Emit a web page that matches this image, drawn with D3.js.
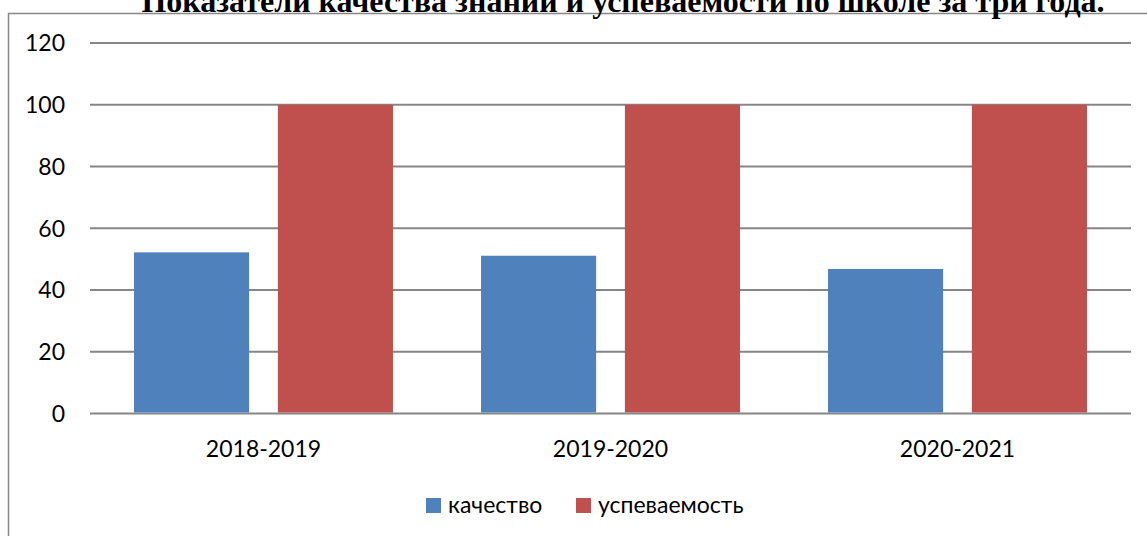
<!DOCTYPE html>
<html>
<head>
<meta charset="utf-8">
<script src="https://cdn.jsdelivr.net/npm/d3@7"></script>
<style>
  body { margin: 0; background: #fff; }
  svg { display: block; }
</style>
</head>
<body>
<div id="chart"></div>
<script>
// chart data
var years = ["2018-2019", "2019-2020", "2020-2021"];
var seriesNames = ["качество", "успеваемость"];
var quality = [52.2, 51.1, 46.8];
var success = [100, 100, 100];
var yTicks = [0, 20, 40, 60, 80, 100, 120];
var colors = ["#4F81BD", "#C0504D"];
var titleText = "Показатели качества знаний и успеваемости по школе за три года.";

var width = 1147, height = 536;
var plotLeft = 90, plotRight = 1131, plotTop = 43, plotBottom = 413.5;

var svg = d3.select("#chart").append("svg")
    .attr("width", width)
    .attr("height", height);

// outer chart border (runs past the right and bottom edges)
svg.append("rect")
    .attr("x", 8.5).attr("y", 13.5)
    .attr("width", 1200).attr("height", 600)
    .attr("fill", "none")
    .attr("stroke", "#868686")
    .attr("stroke-width", 1.5);

// title, cut at the top like the original
svg.append("text")
    .attr("x", 623)
    .attr("y", 11.5)
    .attr("text-anchor", "middle")
    .style("font-family", "'Liberation Serif', 'Times New Roman', serif")
    .style("font-weight", "bold")
    .style("font-size", "32px")
    .text(titleText);

var y = d3.scaleLinear().domain([0, 120]).range([plotBottom, plotTop]);

var x0 = d3.scaleBand().domain(years).range([plotLeft, plotRight]).padding(0);
var x1 = d3.scaleBand().domain(seriesNames).range([0, x0.bandwidth()])
    .paddingInner(0.2).paddingOuter(0.306);

// gridlines
svg.append("g").selectAll("line")
    .data(yTicks)
    .enter().append("line")
    .attr("x1", plotLeft).attr("x2", plotRight)
    .attr("y1", function(d) { return y(d); })
    .attr("y2", function(d) { return y(d); })
    .attr("stroke", "#868686")
    .attr("stroke-width", 2);

// y tick labels
svg.append("g").selectAll("text")
    .data(yTicks)
    .enter().append("text")
    .attr("x", 65)
    .attr("y", function(d) { return y(d); })
    .attr("dy", "0.36em")
    .attr("text-anchor", "end")
    .style("font-family", "Lato, sans-serif")
    .style("font-size", "23px")
    .text(function(d) { return d; });

var rows = years.map(function(yr, i) {
    return { year: yr, values: [quality[i], success[i]] };
});

var groups = svg.append("g").selectAll("g")
    .data(rows)
    .enter().append("g")
    .attr("transform", function(d) { return "translate(" + x0(d.year) + ",0)"; });

groups.selectAll("rect")
    .data(function(d) {
        return seriesNames.map(function(s, j) { return { name: s, value: d.values[j], idx: j }; });
    })
    .enter().append("rect")
    .attr("x", function(d) { return x1(d.name); })
    .attr("y", function(d) { return y(d.value); })
    .attr("width", x1.bandwidth())
    .attr("height", function(d) { return y(0) - y(d.value) - 1; })
    .attr("fill", function(d) { return colors[d.idx]; });

// category labels
svg.append("g").selectAll("text")
    .data(years)
    .enter().append("text")
    .attr("x", function(d) { return x0(d) + x0.bandwidth() / 2; })
    .attr("y", 457)
    .attr("text-anchor", "middle")
    .style("font-family", "Lato, sans-serif")
    .style("font-size", "23px")
    .text(function(d) { return d; });

// legend
var legendX = [426, 576];
var legend = svg.append("g").selectAll("g")
    .data(seriesNames)
    .enter().append("g")
    .attr("transform", function(d, i) { return "translate(" + legendX[i] + ",498)"; });

legend.append("rect")
    .attr("width", 15).attr("height", 15)
    .attr("fill", function(d, i) { return colors[i]; });

legend.append("text")
    .attr("x", 22)
    .attr("y", 15)
    .style("font-family", "Lato, sans-serif")
    .style("font-size", "23px")
    .text(function(d) { return d; });
</script>
</body>
</html>
